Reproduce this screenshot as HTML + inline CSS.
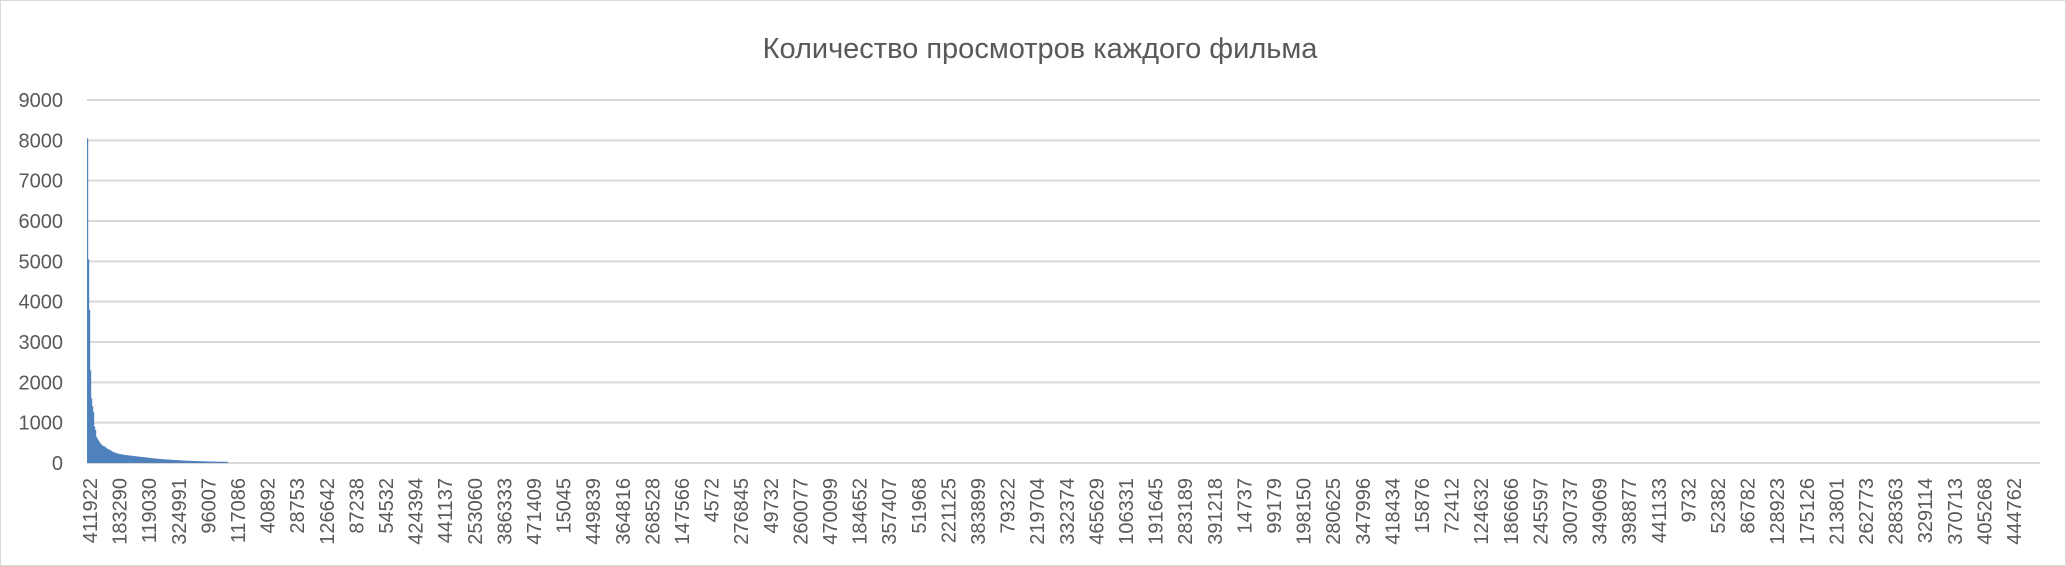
<!DOCTYPE html>
<html><head><meta charset="utf-8"><style>
html,body{margin:0;padding:0;background:#fff;}
svg{display:block;font-family:"Liberation Sans",sans-serif;}
</style></head><body>
<svg id="chart" width="2066" height="566">
<rect x="0.5" y="0.5" width="2065" height="565" fill="#fff" stroke="#d9d9d9"/>
<text x="1040" y="58" text-anchor="middle" font-size="29" fill="#595959">Количество просмотров каждого фильма</text>
<g id="grid"></g><g id="bars"></g><g id="ylabels"></g><g id="xlabels"></g>
</svg>
<script>
const yTicks=[0,1000,2000,3000,4000,5000,6000,7000,8000,9000];
const values=[8050,5050,3800,2300,1600,1400,1270,900,820,650,600,560,520,480,460,430,420,410,390,370,350,340,330,310,300,280,270,260,250,240,235,230,225,220,215,210,205,200,198,195,192,189,186,183,180,177,174,171,168,165,162,159,156,153,150,148,145,142,140,137,134,131,128,125,122,119,116,113,110,108,105,103,101,100,95,94,92,90,89,87,86,84,82,81,79,78,76,74,73,71,70,68,66,65,63,62,61,60,58,57,56,55,54,53,52,51,50,49,48,47,46,45,44,43,42,42,41,40,40,39,38,38,37,36,36,35,35,34,34,33,33,32,32,31,31,30,30,30,29,29,28];
const totalBars=1953;
const xLabels=["411922","183290","119030","324991","96007","117086","40892","28753","126642","87238","54532","424394","441137","253060","386333","471409","15045","449839","364816","268528","147566","4572","276845","49732","260077","470099","184652","357407","51968","221125","383899","79322","219704","332374","465629","106331","191645","283189","391218","14737","99179","198150","280625","347996","418434","15876","72412","124632","186666","245597","300737","349069","398877","441133","9732","52382","86782","128923","175126","213801","262773","288363","329114","370713","405268","444762"];
const NS="http://www.w3.org/2000/svg";
const L=87,R=2040,T=100,B=463;
function y(v){return B-(v/9000)*(B-T);}
function xb(i){return L+i*(R-L)/totalBars;}
function xl(i){return 90+i*(2014-90)/(xLabels.length-1);}
const grid=document.getElementById('grid'),bars=document.getElementById('bars'),yl=document.getElementById('ylabels'),xlg=document.getElementById('xlabels');
yTicks.forEach(t=>{
 const l=document.createElementNS(NS,'line');
 l.setAttribute('x1',L);l.setAttribute('x2',R);l.setAttribute('y1',y(t));l.setAttribute('y2',y(t));
 l.setAttribute('stroke','#d9d9d9');l.setAttribute('stroke-width','2');
 
 
 grid.appendChild(l);
 const tx=document.createElementNS(NS,'text');
 tx.setAttribute('x',63);tx.setAttribute('y',y(t)+7);tx.setAttribute('text-anchor','end');
 tx.setAttribute('font-size','20');tx.setAttribute('fill','#595959');tx.textContent=t;
 
 
 yl.appendChild(tx);
});
const w=(R-L)/totalBars;
values.forEach((v,i)=>{
 const r=document.createElementNS(NS,'rect');
 r.setAttribute('x',xb(i));r.setAttribute('y',y(v));r.setAttribute('width',w+0.2);r.setAttribute('height',B-y(v));
 r.setAttribute('fill','#4f81bd');
 
 
 bars.appendChild(r);
});
xLabels.forEach((s,i)=>{
 const tx=document.createElementNS(NS,'text');
 const x=xl(i)+7,yy=478;
 tx.setAttribute('x',x);tx.setAttribute('y',yy);tx.setAttribute('text-anchor','end');
 tx.setAttribute('transform','rotate(-90 '+x+' '+yy+')');
 tx.setAttribute('font-size','20');tx.setAttribute('fill','#595959');tx.textContent=s;
 
 
 xlg.appendChild(tx);
});
</script>
</body></html>
